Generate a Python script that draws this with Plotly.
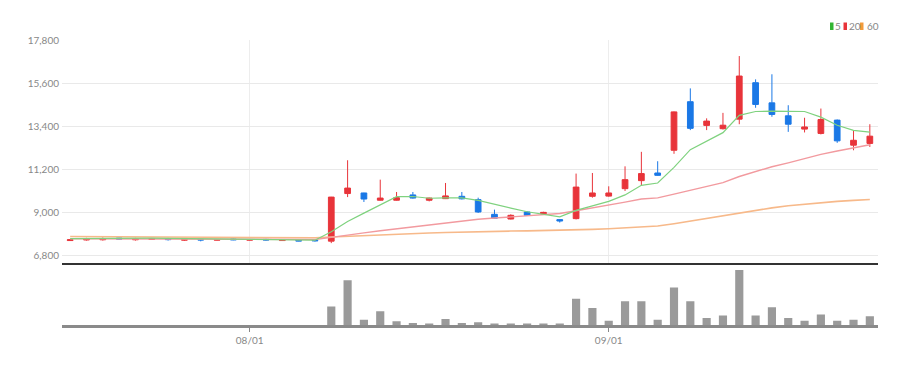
import plotly.graph_objects as go

dates = ["07/17", "07/18", "07/19", "07/20", "07/21", "07/24", "07/25", "07/26", "07/27", "07/28", "07/31",
         "08/01", "08/02", "08/03", "08/04", "08/07", "08/08", "08/09", "08/10", "08/11", "08/14", "08/16",
         "08/17", "08/18", "08/21", "08/22", "08/23", "08/24", "08/25", "08/28", "08/29", "08/30", "08/31",
         "09/01", "09/04", "09/05", "09/06", "09/07", "09/08", "09/11", "09/12", "09/13", "09/14", "09/15",
         "09/18", "09/19", "09/20", "09/21", "09/22", "09/25"]

opens = [7560, 7590, 7600, 7690, 7600, 7620, 7660, 7580, 7620, 7580, 7640, 7580, 7620, 7560, 7570, 7580,
         7530, 9960, 9990, 9620, 9620, 9890, 9620, 9700, 9820, 9650, 8900, 8660, 9020, 8920, 8630,
         8680, 9820, 9830, 10210, 10620, 11010, 12170, 14650, 13440, 13270, 13760, 15620, 14590, 13930,
         13250, 13030, 13710, 12430, 12520]
highs = [7640, 7700, 7720, 7700, 7700, 7690, 7700, 7640, 7640, 7620, 7660, 7620, 7650, 7620, 7580, 7600,
         9790, 11660, 10000, 10670, 10040, 10040, 9750, 10500, 10040, 9750, 9140, 8900, 9050, 9030, 8650,
         10980, 11010, 10330, 11350, 12090, 11610, 14150, 15330, 13800, 14080, 16980, 15790, 16050, 14470,
         13830, 14300, 13740, 13200, 13500]
lows = [7540, 7560, 7560, 7620, 7560, 7600, 7560, 7540, 7520, 7570, 7580, 7570, 7560, 7540, 7530, 7510,
        7430, 9780, 9530, 9600, 9600, 9700, 9560, 9680, 9660, 8970, 8680, 8640, 8830, 8900, 8480,
        8640, 9750, 9800, 10090, 10380, 10870, 11990, 13200, 13200, 13230, 13500, 14340, 13880, 13110,
        13080, 12980, 12550, 12170, 12340]
closes = [7600, 7640, 7640, 7640, 7640, 7660, 7610, 7610, 7590, 7610, 7600, 7610, 7590, 7600, 7540, 7550,
          9780, 10240, 9680, 9730, 9750, 9730, 9730, 9840, 9690, 9020, 8700, 8850, 8850, 9000, 8560,
          10290, 9990, 9990, 10670, 10980, 10890, 14130, 13290, 13660, 13450, 15960, 14510, 14000, 13500,
          13360, 13740, 12650, 12680, 12890]

volumes = [0, 0, 0, 0, 0, 0, 0, 0, 0, 0, 0, 0, 0, 0, 0, 0,
           366, 886, 106, 272, 72, 40, 20, 120, 40, 52, 20, 20, 20, 20, 20,
           520, 334, 86, 472, 472, 106, 740, 472, 140, 186, 1086, 186, 352, 140,
           86, 206, 86, 106, 172]

ma5 = [7660, 7670, 7680, 7690, 7690, 7680, 7670, 7660, 7650, 7640, 7630, 7620, 7610, 7600, 7590, 7580,
       8010, 8530, 8960, 9380, 9800, 9810, 9720, 9740, 9740, 9610, 9400, 9220, 9030, 8890, 8770,
       9100, 9330, 9560, 9890, 10380, 10500, 11300, 12200, 12650, 13070, 13950, 14150, 14170, 14170,
       14150, 13860, 13450, 13190, 13100]
ma20 = [7650, 7650, 7650, 7650, 7650, 7650, 7650, 7650, 7645, 7640, 7640, 7635, 7630, 7625, 7620, 7615,
        7720, 7850, 7950, 8060, 8160, 8270, 8370, 8480, 8580, 8650, 8710, 8770, 8830, 8890, 8940,
        9080, 9220, 9360, 9520, 9680, 9740, 9930, 10130, 10330, 10520, 10830, 11100, 11330, 11530,
        11740, 11960, 12130, 12300, 12450]
ma60 = [7770, 7765, 7760, 7755, 7750, 7745, 7740, 7735, 7730, 7725, 7720, 7715, 7710, 7705, 7700, 7700,
        7740, 7780, 7815, 7850, 7885, 7915, 7945, 7975, 8000, 8020, 8035, 8045, 8055, 8065, 8080,
        8110, 8130, 8160, 8200, 8250, 8300, 8420, 8560, 8700, 8830, 8980, 9120, 9230, 9340,
        9420, 9500, 9560, 9610, 9660]

price_ticks = [6800, 9000, 11200, 13400, 15600, 17800]
date_ticks = ["08/01", "09/01"]
legend_labels = ["5", "20", "60"]

UP = "#e8343a"
DOWN = "#1a78e6"
MA_COLORS = ["#7fd27f", "#f29a9f", "#f7b98a"]
LEG_COLORS = ["#33b533", "#e8343a", "#f39a3a"]
FONT = "Liberation Sans Narrow, Lato, sans-serif"

fig = go.Figure()

for vals, col, w in zip([ma60, ma20, ma5], [MA_COLORS[2], MA_COLORS[1], MA_COLORS[0]], [1.6, 1.4, 1.2]):
    fig.add_trace(go.Scatter(x=dates, y=vals, mode="lines", line=dict(color=col, width=w),
                             showlegend=False, hoverinfo="skip", xaxis="x", yaxis="y"))

fig.add_trace(go.Candlestick(
    x=dates, open=opens, high=highs, low=lows, close=closes,
    increasing=dict(line=dict(color=UP, width=1), fillcolor=UP),
    decreasing=dict(line=dict(color=DOWN, width=1), fillcolor=DOWN),
    whiskerwidth=0, showlegend=False, xaxis="x", yaxis="y"))

fig.add_trace(go.Bar(x=dates, y=volumes, marker=dict(color="#9a9a9a", line=dict(width=0)),
                     width=0.5, showlegend=False, xaxis="x2", yaxis="y2"))

# page body has an 8px margin: figure sized/offset so the plot lands where the reference has it
OFF = 8
W, H = 914 - OFF, 365 - OFF
ML, MR, MT, MB = 62 - OFF, 36, 40 - OFF, 40
pw = W - ML - MR
ph = H - MT - MB

def px_x(p):
    return (p - OFF - ML) / pw

def px_y(p):
    return (H - MB - (p - OFF)) / ph

fig.update_layout(
    width=W, height=H,
    margin=dict(l=ML, r=MR, t=MT, b=MB),
    paper_bgcolor="white", plot_bgcolor="white",
    font=dict(family=FONT, size=10, color="#888"),
    boxgap=0.5,
    showlegend=False,
    xaxis=dict(type="category", range=[-0.5, 49.5], domain=[0, 1], anchor="y",
               tickmode="array", tickvals=date_ticks, showticklabels=False,
               showgrid=True, gridcolor="#ededed", gridwidth=1,
               showline=True, linecolor="#333", linewidth=2, ticks="",
               rangeslider=dict(visible=False), zeroline=False),
    yaxis=dict(domain=[px_y(262.5), 1], range=[6440, 17800], tickmode="array",
               tickvals=price_ticks, tickformat=",", showgrid=True, gridcolor="#e9e9e9",
               zeroline=False, showline=False, ticks="", ticklabelstandoff=2),
    xaxis2=dict(type="category", range=[-0.5, 49.5], domain=[0, 1], anchor="y2", matches="x",
                tickmode="array", tickvals=date_ticks, ticktext=date_ticks,
                showgrid=False, showline=True, linecolor="#8a8a8a", linewidth=3,
                ticks="outside", ticklen=4, tickcolor="#888", tickfont=dict(size=10, color="#888")),
    yaxis2=dict(domain=[0, px_y(263.5)], range=[0, 1086 * 1.12], showticklabels=False,
                showgrid=False, zeroline=False, showline=False, ticks=""),
)

shapes = []
annotations = []
sq_x = [830, 843.5, 860]
txt_x = [833, 847, 864.5]
for sx, tx, col, lab in zip(sq_x, txt_x, LEG_COLORS, legend_labels):
    shapes.append(dict(type="rect", xref="paper", yref="paper",
                       x0=px_x(sx), x1=px_x(sx + 3.5), y0=px_y(30), y1=px_y(22.5),
                       fillcolor=col, line=dict(width=0)))
    annotations.append(dict(text=lab, xref="paper", yref="paper", x=px_x(tx), y=px_y(26.3),
                            xanchor="left", yanchor="middle", showarrow=False,
                            font=dict(family=FONT, size=10, color="#888")))
fig.update_layout(shapes=shapes, annotations=annotations)

fig.write_html("out.html")
